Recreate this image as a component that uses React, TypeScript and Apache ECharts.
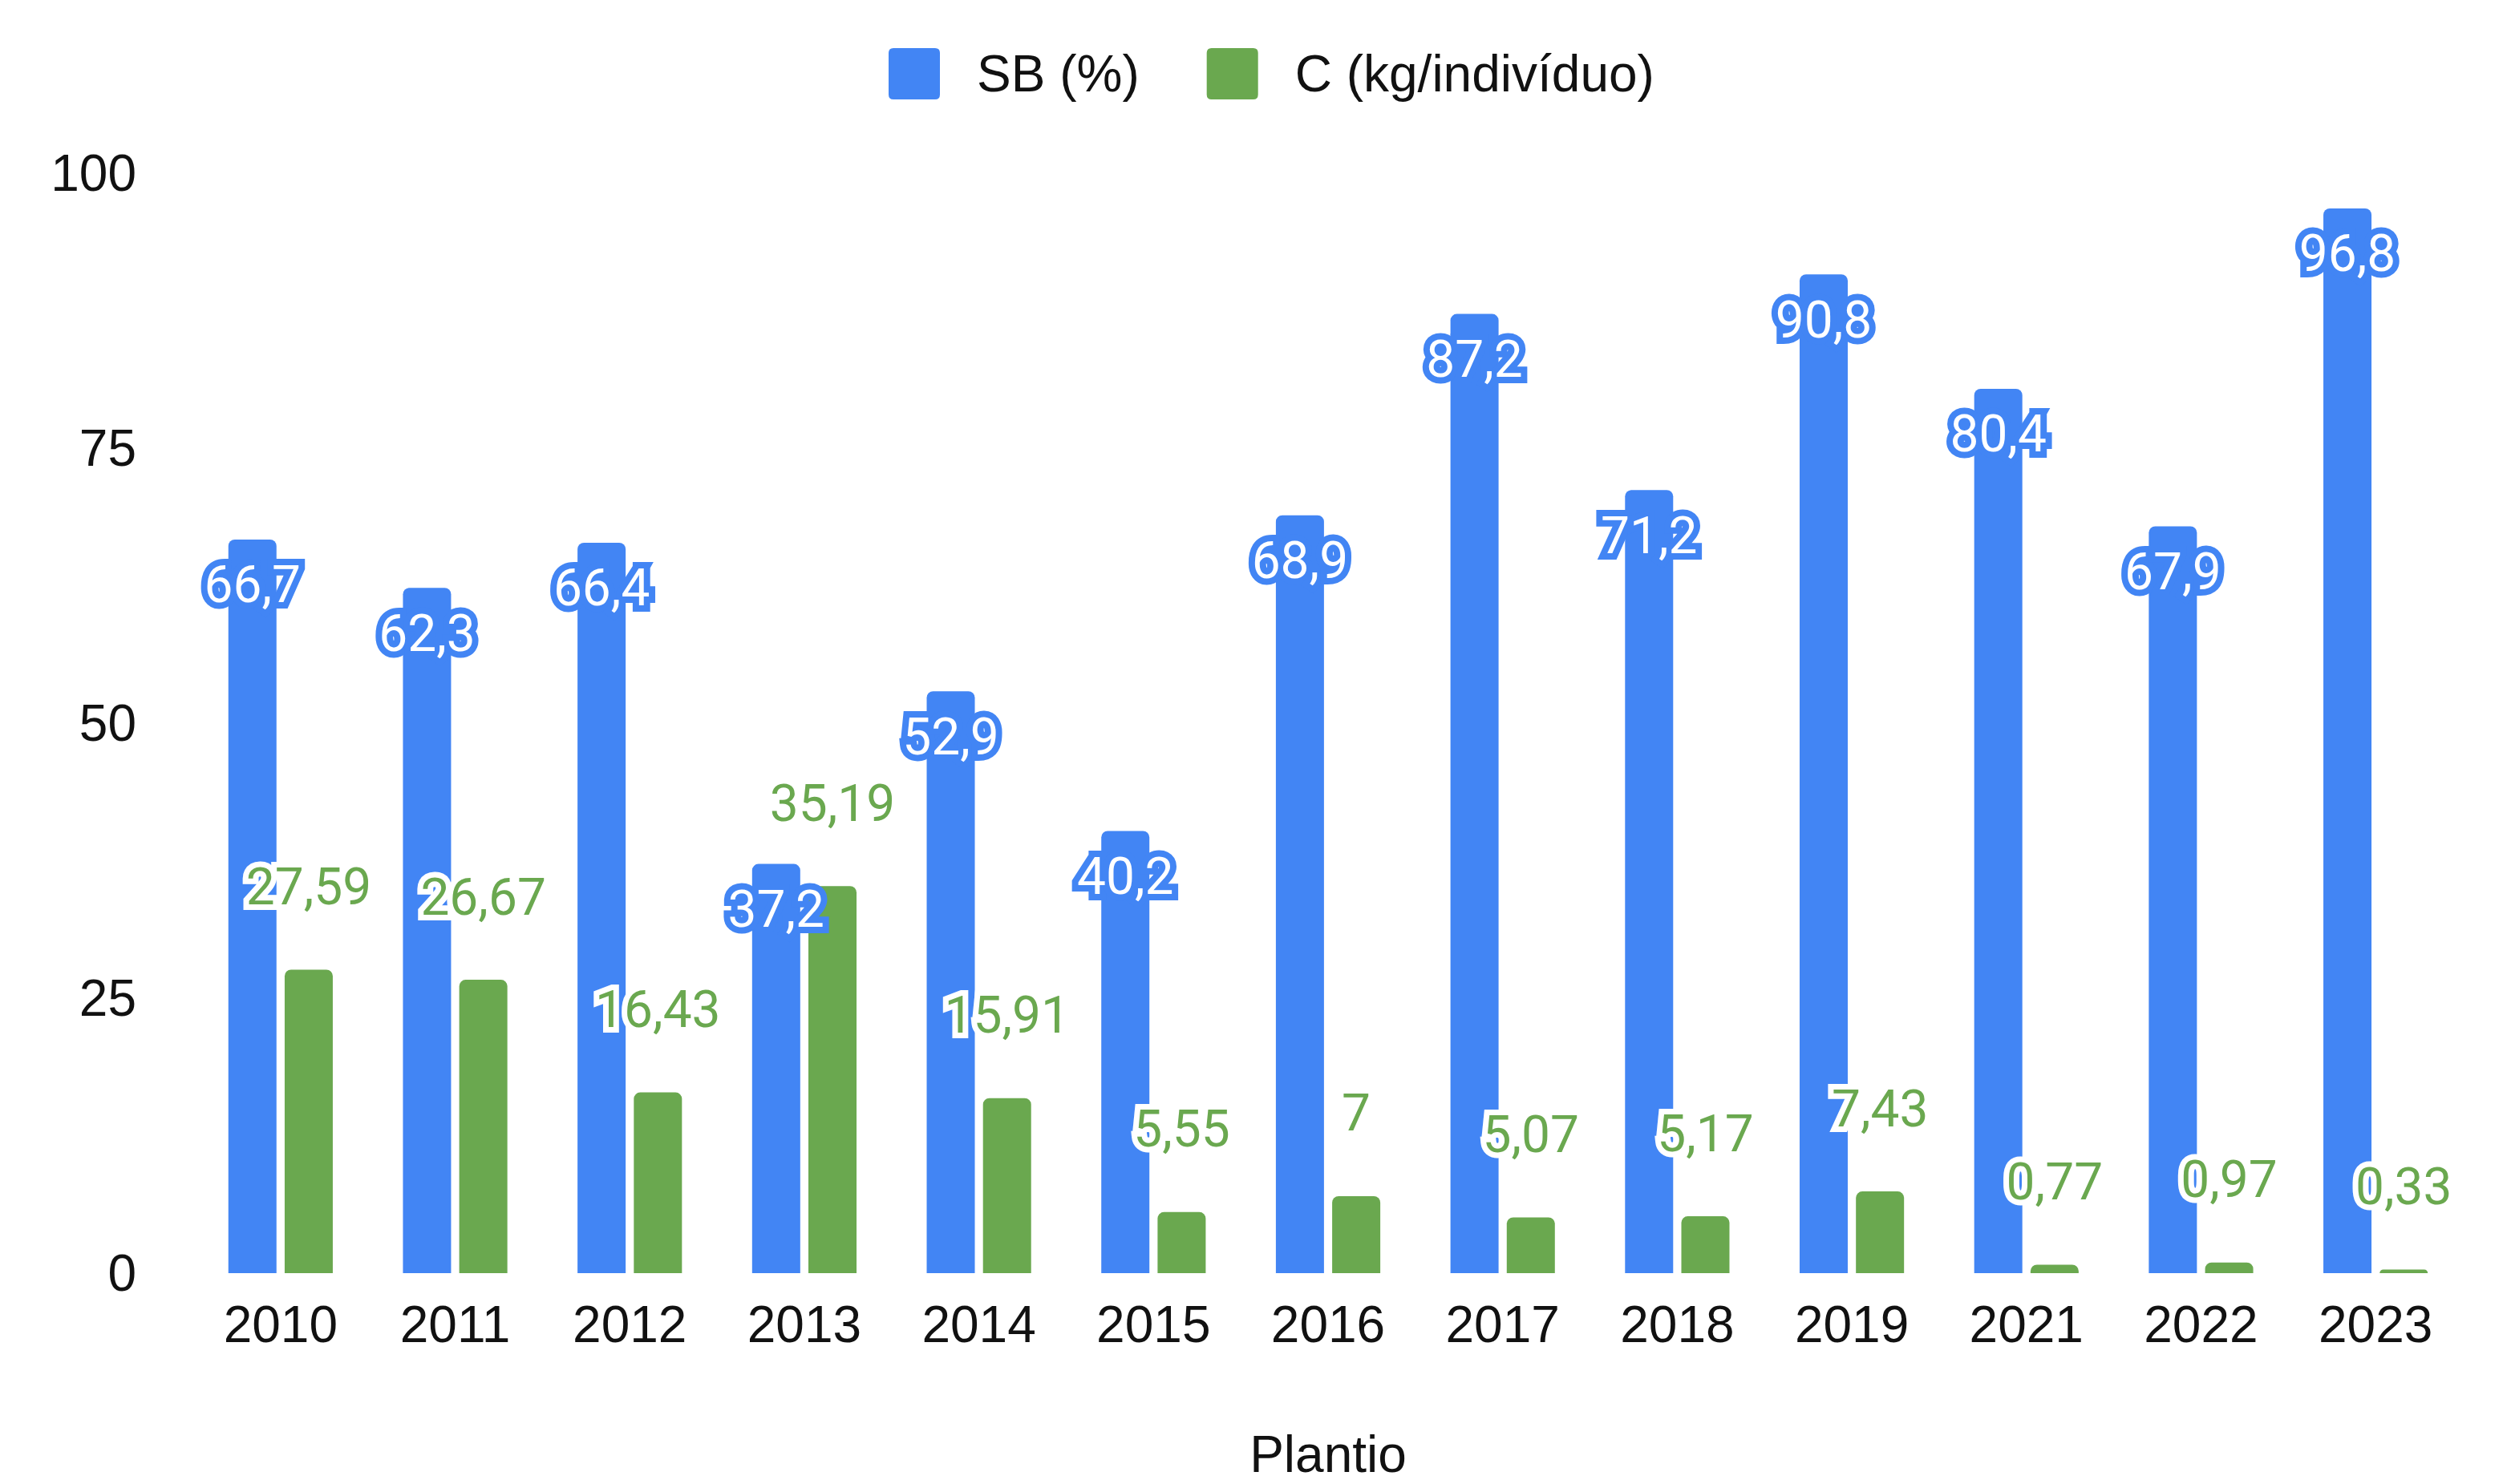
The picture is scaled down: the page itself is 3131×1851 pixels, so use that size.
import React, { useEffect, useRef } from "react";
import * as echarts from "echarts";

const categories = ["2010", "2011", "2012", "2013", "2014", "2015", "2016", "2017", "2018", "2019", "2021", "2022", "2023"];
const sbValues = [66.7, 62.3, 66.4, 37.2, 52.9, 40.2, 68.9, 87.2, 71.2, 90.8, 80.4, 67.9, 96.8];
const cValues = [27.59, 26.67, 16.43, 35.19, 15.91, 5.55, 7, 5.07, 5.17, 7.43, 0.77, 0.97, 0.33];
const yTicks = [0, 25, 50, 75, 100];
const seriesNames = ["SB (%)", "C (kg/indivíduo)"];
const axisName = "Plantio";

const BLUE = "#4285F4";
const GREEN = "#6AA84F";
const TEXT = "#111111";
const SANS = "Liberation Sans, Arial, sans-serif";
const fmt = (v: number) => String(v).replace(".", ",");
const ICON = "path://M6,0 H58 Q64,0 64,6 V58 Q64,64 58,64 H6 Q0,64 0,58 V6 Q0,0 6,0 Z";

export default function App() {
  const ref = useRef<HTMLDivElement>(null);
  useEffect(() => {
    document.body.style.margin = "0";
    const chart = echarts.init(ref.current!, undefined, { renderer: "svg" });
    chart.setOption({
      animation: false,
      backgroundColor: "#ffffff",
      legend: {
        left: 1103,
        top: 55,
        itemWidth: 64,
        itemHeight: 64,
        itemGap: 84,
        icon: ICON,
        textStyle: {
          fontFamily: SANS,
          fontSize: 64,
          color: TEXT,
          padding: [0, 0, 0, 41],
        },
        data: seriesNames,
      },
      grid: { left: 241, right: 60, top: 216, bottom: 251, containLabel: false },
      xAxis: {
        type: "category",
        data: categories,
        name: axisName,
        nameLocation: "middle",
        nameGap: 194,
        nameTextStyle: { fontFamily: SANS, fontSize: 64, color: TEXT },
        axisLine: { show: false },
        axisTick: { show: false },
        axisLabel: { margin: 32, fontFamily: SANS, fontSize: 64, color: TEXT },
      },
      yAxis: {
        type: "value",
        min: yTicks[0],
        max: yTicks[yTicks.length - 1],
        interval: 25,
        splitLine: { show: false },
        axisLine: { show: false },
        axisTick: { show: false },
        axisLabel: { margin: 71, fontFamily: SANS, fontSize: 64, color: TEXT },
      },
      series: [
        {
          name: seriesNames[0],
          type: "bar",
          data: sbValues,
          barWidth: 60,
          barGap: "17%",
          itemStyle: { color: BLUE, borderRadius: [8, 8, 0, 0] },
          label: {
            show: true,
            position: "insideTop",
            offset: [0, 20],
            formatter: (p: any) => fmt(p.value),
            fontFamily: "Roboto, sans-serif",
            fontSize: 64,
            color: "#ffffff",
            textBorderColor: BLUE,
            textBorderWidth: 16,
          },
        },
        {
          name: seriesNames[1],
          type: "bar",
          data: cValues,
          barWidth: 60,
          itemStyle: { color: GREEN, borderRadius: [8, 8, 0, 0] },
          label: {
            show: true,
            position: "top",
            offset: [0, -66],
            formatter: (p: any) => fmt(p.value),
            fontFamily: "Roboto, sans-serif",
            fontSize: 64,
            color: GREEN,
            textBorderColor: "#ffffff",
            textBorderWidth: 14,
          },
        },
      ],
    });
    return () => chart.dispose();
  }, []);
  return <div ref={ref} style={{ width: 3131, height: 1851 }} />;
}
